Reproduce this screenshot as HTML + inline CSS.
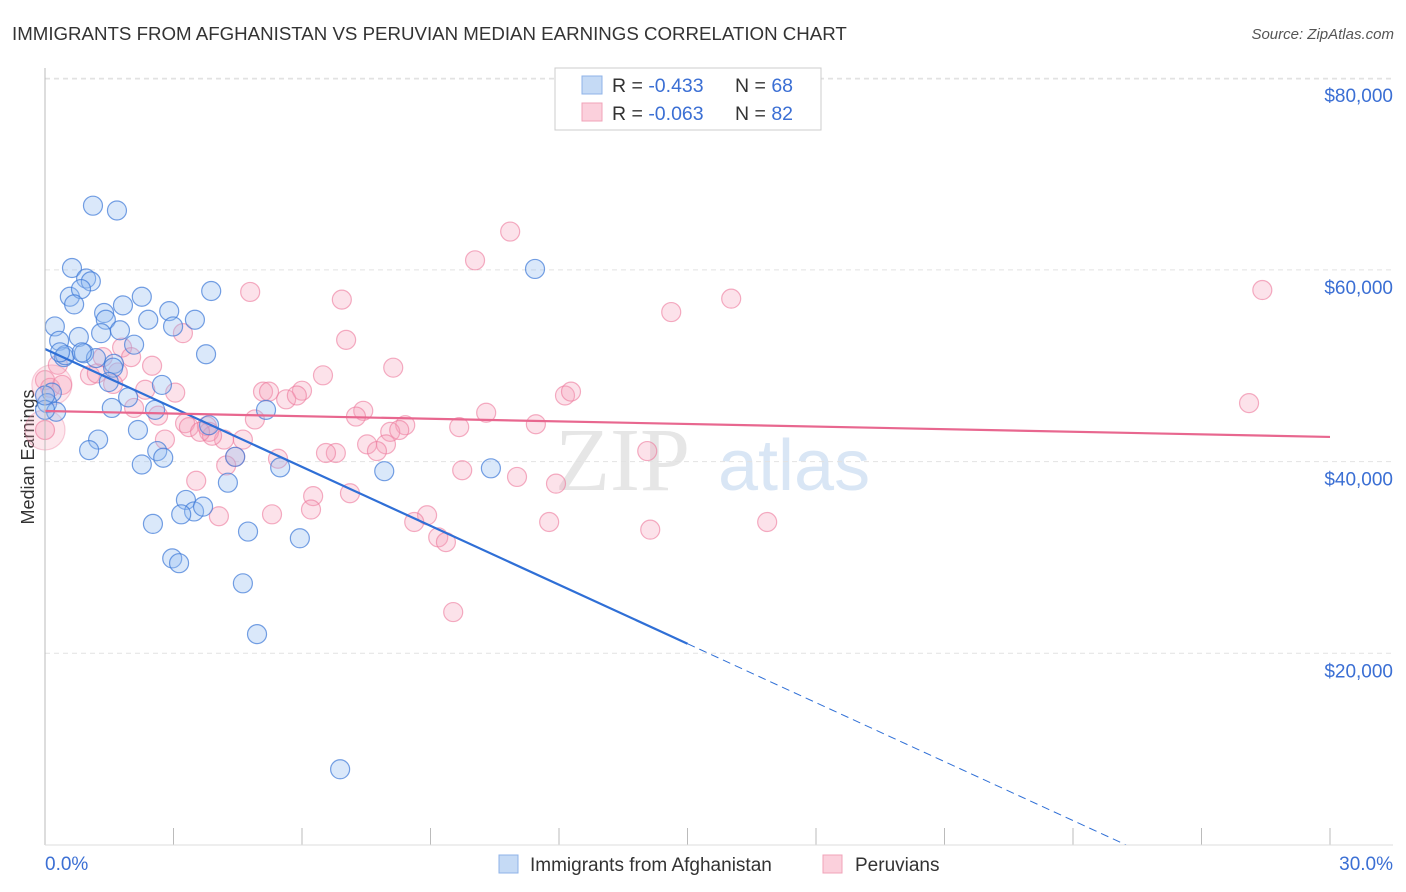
<!DOCTYPE html>
<html><head><meta charset="utf-8"><style>
body{margin:0;background:#fff;font-family:"Liberation Sans",sans-serif;}
#wrap{position:relative;width:1406px;height:892px;overflow:hidden;}
</style></head><body>
<div id="wrap">
<svg id="svg" width="1406" height="892" xmlns="http://www.w3.org/2000/svg">
<text x="12" y="40" font-size="18.7" fill="#333">IMMIGRANTS FROM AFGHANISTAN VS PERUVIAN MEDIAN EARNINGS CORRELATION CHART</text>
<text x="1394" y="39" font-size="15" fill="#555" font-style="italic" text-anchor="end">Source: ZipAtlas.com</text>
<text x="34" y="457" font-size="18" fill="#333" text-anchor="middle" transform="rotate(-90 34 457)">Median Earnings</text>
<g><text x="555" y="490" font-size="90" fill="#e6e6e6" font-family="Liberation Serif,serif">ZIP</text><text x="718" y="490" font-size="72" fill="#d9e6f5">atlas</text></g>
<g id="grid"></g><g id="pts"></g><g id="trend"></g>
<line x1="45" y1="68" x2="45" y2="845" stroke="#bbb"/>
<line x1="45" y1="845" x2="1393" y2="845" stroke="#ddd"/>
<text x="45" y="870" font-size="19" fill="#3b6fd4">0.0%</text>
<text x="1393" y="870" font-size="19" fill="#3b6fd4" text-anchor="end">30.0%</text>
<g>
<rect x="555" y="68" width="266" height="62" fill="#fff" stroke="#ccc"/>
<rect x="582" y="76" width="20" height="18" fill="#c5daf5" stroke="#8fb3e8"/>
<rect x="582" y="103" width="20" height="18" fill="#fbd0dc" stroke="#f0a3b8"/>
<text x="612" y="92" font-size="19.5" fill="#333">R = <tspan fill="#3b6fd4">-0.433</tspan></text>
<text x="735" y="92" font-size="19.5" fill="#333">N = <tspan fill="#3b6fd4">68</tspan></text>
<text x="612" y="120" font-size="19.5" fill="#333">R = <tspan fill="#3b6fd4">-0.063</tspan></text>
<text x="735" y="120" font-size="19.5" fill="#333">N = <tspan fill="#3b6fd4">82</tspan></text>
</g>
<g>
<rect x="499" y="855" width="19" height="18" fill="#c5daf5" stroke="#8fb3e8"/>
<text x="530" y="871" font-size="19" fill="#333">Immigrants from Afghanistan</text>
<rect x="823" y="855" width="19" height="18" fill="#fbd0dc" stroke="#f0a3b8"/>
<text x="855" y="871" font-size="19" fill="#333">Peruvians</text>
</g>
</svg></div>
<script>
const yTicks=[20000,40000,60000,80000];
const yTickLabels=["$20,000","$40,000","$60,000","$80,000"];
const xTicks=[0,3,6,9,12,15,18,21,24,27,30];
const blueX=[1.12,1.68,0.63,0.96,1.07,0.58,0.84,0.68,1.82,2.26,2.90,3.88,0.23,1.38,1.42,2.41,2.99,3.50,0.33,0.79,1.75,1.31,2.08,3.76,0.44,0.91,1.19,1.61,0.47,1.59,2.73,1.49,1.94,2.57,0.16,0.05,0.26,1.24,1.03,2.17,1.56,5.16,2.62,2.76,2.26,4.44,5.49,7.92,10.41,4.27,3.29,3.48,3.69,3.18,2.52,4.74,5.95,2.97,3.13,4.62,4.95,6.89,11.44,3.83,0,0,0.35,0.86];
const blueY=[66.7,66.2,60.2,59.1,58.8,57.2,58.0,56.4,56.3,57.2,55.7,57.8,54.1,55.5,54.8,54.8,54.1,54.8,52.6,53.0,53.7,53.4,52.2,51.2,50.9,51.3,50.8,50.2,51.1,49.8,48.0,48.3,46.7,45.4,47.2,46.1,45.2,42.3,41.2,43.3,45.6,45.4,41.1,40.4,39.7,40.5,39.4,39.0,39.3,37.8,36.0,34.8,35.3,34.5,33.5,32.7,32.0,29.9,29.4,27.3,22.0,7.9,60.1,43.8,45.4,46.9,51.4,51.4];
const pinkX=[10.86,10.04,4.79,6.93,16.02,14.62,28.42,7.03,3.22,1.80,1.35,8.13,2.01,2.50,0.30,0,0.12,1.05,1.21,1.70,1.59,2.34,3.04,5.09,5.23,6.00,6.49,5.63,5.88,12.14,12.28,2.08,2.64,3.27,3.78,4.90,3.36,7.43,7.26,9.67,10.30,8.41,11.46,8.06,8.27,7.52,7.96,7.75,4.62,4.18,3.83,3.90,4.44,3.62,2.80,4.23,6.79,5.44,6.56,9.74,11.02,11.93,14.06,3.53,6.26,7.12,8.92,5.30,6.21,8.62,4.06,11.77,14.13,16.86,9.18,9.36,9.53,28.11,0,0.40,0.16,0];
const pinkY=[64.0,61.0,57.7,56.9,57.0,55.6,57.9,52.7,53.4,51.9,50.9,49.8,50.9,50.0,50.1,48.5,47.7,49.0,49.2,49.3,48.1,47.5,47.2,47.3,47.3,47.4,49.0,46.5,46.9,46.9,47.3,45.6,44.8,44.0,43.7,44.4,43.6,45.3,44.7,43.6,45.1,43.8,43.9,43.1,43.3,41.8,41.8,41.1,42.3,42.3,43.1,42.7,40.5,43.1,42.3,39.6,40.9,40.3,40.9,39.1,38.4,37.7,41.1,38.0,36.4,36.7,34.4,34.5,35.0,33.7,34.3,33.7,32.9,33.7,32.1,31.6,24.3,46.1,43.3,48.0,48.0,43.3];
const pinkSize=pinkX.map((v,i)=>(i===78||i===80)?2:1);
const blueTrend=[51.75,-2.05];
const pinkTrend=[45.28,-0.0903];
const sx=v=>45+v/30*1285;
const sy=v=>845-v*1000/20000*191.7;
const NS="http://www.w3.org/2000/svg";
function mk(tag,attrs,parent){const e=document.createElementNS(NS,tag);for(const k in attrs)e.setAttribute(k,attrs[k]);parent.appendChild(e);return e;}
const grid=document.getElementById('grid');
yTicks.forEach((t,i)=>{
 const l=mk('line',{x1:45,x2:1393,y1:sy(t/1000),y2:sy(t/1000),stroke:'#e2e2e2','stroke-dasharray':'5,4'},grid);
 
 
 const tx=mk('text',{x:1393,y:sy(t/1000)+24,'font-size':19,fill:'#3b6fd4','text-anchor':'end'},grid);
 tx.textContent=yTickLabels[i];
 
 
});
mk('line',{x1:45,x2:1393,y1:79,y2:79,stroke:'#e2e2e2','stroke-dasharray':'5,4'},grid);
xTicks.forEach(t=>{
 const l=mk('line',{x1:sx(t),x2:sx(t),y1:828,y2:845,stroke:'#bbb'},grid);
 
 
});
const pts=document.getElementById('pts');
pinkX.forEach((x,i)=>{
 const big=pinkSize[i]>1;
 const c=mk('circle',{cx:sx(x),cy:sy(pinkY[i]),r:big?20:9.5,fill:big?'rgba(246,160,185,0.25)':'rgba(246,160,185,0.3)',stroke:big?'rgba(236,120,155,0.35)':'rgba(236,120,155,0.6)','stroke-width':1.2},pts);
 
 
});
blueX.forEach((x,i)=>{
 const c=mk('circle',{cx:sx(x),cy:sy(blueY[i]),r:9.5,fill:'rgba(150,190,240,0.35)',stroke:'rgba(60,120,215,0.7)','stroke-width':1.2},pts);
 
 
});
const tr=document.getElementById('trend');
const bEnd=15.0, bZero=blueTrend[0]/-blueTrend[1];
let l1=mk('line',{x1:sx(0),y1:sy(blueTrend[0]),x2:sx(bEnd),y2:sy(blueTrend[0]+blueTrend[1]*bEnd),stroke:'#2f6fd6','stroke-width':2.2},tr);


let l2=mk('line',{x1:sx(bEnd),y1:sy(blueTrend[0]+blueTrend[1]*bEnd),x2:sx(bZero),y2:sy(0),stroke:'#2f6fd6','stroke-width':1,'stroke-dasharray':'8,5'},tr);


let l3=mk('line',{x1:sx(0),y1:sy(pinkTrend[0]),x2:sx(30),y2:sy(pinkTrend[0]+pinkTrend[1]*30),stroke:'#e8678f','stroke-width':2.2},tr);


</script>
</body></html>
